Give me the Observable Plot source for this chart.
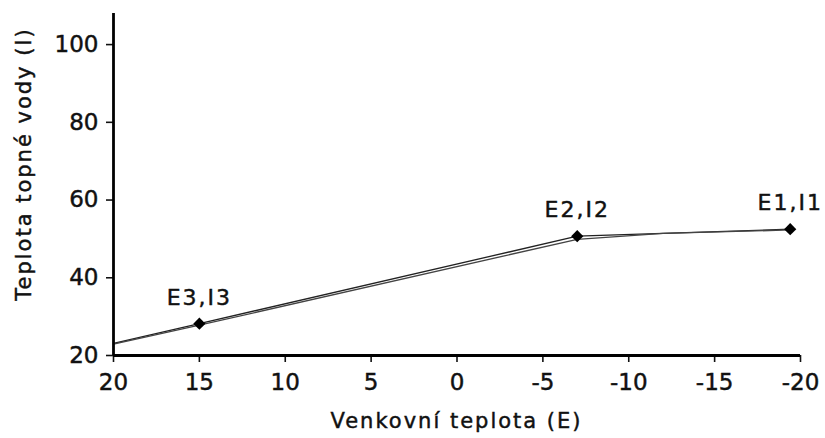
<!DOCTYPE html>
<html><head><meta charset="utf-8">
<script src="https://cdn.jsdelivr.net/npm/d3@7"></script>
<script src="https://cdn.jsdelivr.net/npm/@observablehq/plot@0.6"></script>
<style>
body{margin:0;background:#fff;}
svg{font-family:"DejaVu Sans",Verdana,sans-serif;}
.lbl{letter-spacing:2px;}
[aria-label$="tick label"]{font-size:23px;}
[aria-label$="tick label"] text, .lbl, .ptlbl text{stroke:#111;stroke-width:0.45px;}
.ptlbl{font-size:22px;letter-spacing:2px;}
</style></head>
<body><div id="chart"></div>
<script>
// Curve points (outdoor temp E, water temp I)
const curveE = [20, 15, -7, -19.4];
const curveI = [23.1, 28.2, 50.7, 52.5];
// second (slightly offset) stroke of the double line
const curve2E = [20, 15, -7, -12, -19.4];
const curve2I = [22.9, 27.8, 49.9, 51.4, 52.3];
// labelled points
const pointLabels = ["E3,I3", "E2,I2", "E1,I1"];
const pointE = [15, -7, -19.4];
const pointI = [28.2, 50.7, 52.5];
const xTicks = [20, 15, 10, 5, 0, -5, -10, -15, -20];
const yTicks = [20, 40, 60, 80, 100];
const xDomain = [20, -20];
const yDomain = [20, 108];
const xLabel = "Venkovní teplota (E)";
const yLabel = "Teplota topné vody (I)";

const line1 = curveE.map((e, i) => ({E: e, I: curveI[i]}));
const line2 = curve2E.map((e, i) => ({E: e, I: curve2I[i]}));
const pts = pointE.map((e, i) => ({E: e, I: pointI[i], label: pointLabels[i]}));

const W = 825, H = 438, mL = 113, mR = 25, mT = 13, mB = 83;
const fmt = d => String(d);

const chart = Plot.plot({
  width: W,
  height: H,
  marginLeft: mL,
  marginRight: mR,
  marginTop: mT,
  marginBottom: mB,
  style: {fontFamily: '"DejaVu Sans", Verdana, sans-serif', background: "#fff", color: "#111"},
  x: {domain: xDomain},
  y: {domain: yDomain},
  marks: [
    Plot.axisX({ticks: xTicks, tickFormat: fmt, tickSize: 7, tickPadding: 11, fontSize: 23, strokeWidth: 1.6, label: null}),
    Plot.axisY({ticks: yTicks, tickFormat: fmt, tickSize: 7, tickPadding: 8, fontSize: 23, strokeWidth: 1.6, label: null}),
    Plot.line(line1, {x: "E", y: "I", stroke: "#222", strokeWidth: 1.3}),
    Plot.line(line2, {x: "E", y: "I", stroke: "#444", strokeWidth: 1.3}),
    Plot.dot(pts, {x: "E", y: "I", r: 5.5, fill: "#000", symbol: "diamond2"}),
    Plot.text(pts, {x: "E", y: "I", text: "label", dy: -26, fontSize: 22, fill: "#111", className: "ptlbl"}),
    Plot.ruleY([yDomain[0]], {stroke: "#000", strokeWidth: 2.8}),
    Plot.ruleX([xDomain[0]], {stroke: "#000", strokeWidth: 2.8})
  ]
});
document.getElementById("chart").appendChild(chart);

const svg = d3.select(chart);
svg.append("text")
  .attr("class", "lbl")
  .attr("x", (mL + W - mR) / 2)
  .attr("y", 422)
  .attr("text-anchor", "middle")
  .attr("dominant-baseline", "middle")
  .attr("font-size", 21)
  .attr("fill", "#111")
  .text(xLabel);
svg.append("text")
  .attr("class", "lbl")
  .attr("transform", `translate(25,${(mT + H - mB) / 2 - 20}) rotate(-90)`)
  .attr("text-anchor", "middle")
  .attr("dominant-baseline", "middle")
  .attr("font-size", 21)
  .attr("fill", "#111")
  .text(yLabel);
</script></body></html>
